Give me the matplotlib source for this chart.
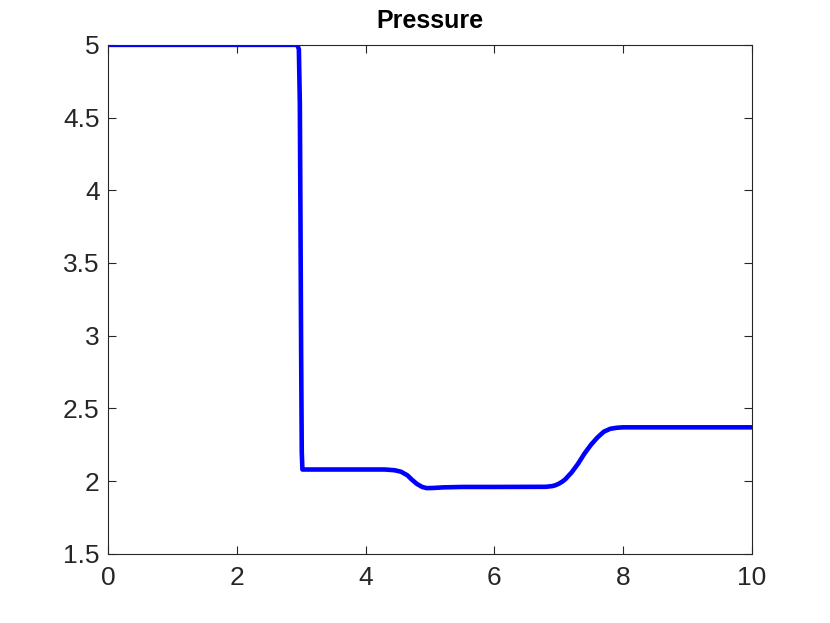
import matplotlib
matplotlib.use("Agg")
import matplotlib.pyplot as plt

x_vals = [0, 2.94, 2.965, 2.98, 2.99, 3.0, 3.01, 3.02, 4.3, 4.45, 4.55, 4.65, 4.72, 4.8, 4.88, 4.95, 5.05, 5.2, 5.5, 6.0, 6.8, 6.9, 6.95, 7.0, 7.05, 7.1, 7.2, 7.3, 7.4, 7.5, 7.6, 7.7, 7.8, 7.9, 8.0, 10]
p_vals = [5, 5, 4.97, 4.6, 3.8, 2.9, 2.2, 2.08, 2.08, 2.075, 2.065, 2.04, 2.01, 1.98, 1.96, 1.952, 1.953, 1.957, 1.96, 1.96, 1.961, 1.966, 1.972, 1.982, 1.995, 2.012, 2.06, 2.12, 2.19, 2.25, 2.3, 2.34, 2.36, 2.367, 2.37, 2.37]

xticks = [0, 2, 4, 6, 8, 10]
yticks = [1.5, 2, 2.5, 3, 3.5, 4, 4.5, 5]
ytick_labels = ["1.5", "2", "2.5", "3", "3.5", "4", "4.5", "5"]

plt.rcParams['font.family'] = ['Liberation Sans', 'DejaVu Sans']
fig = plt.figure(figsize=(8.3, 6.23), dpi=100)
ax = fig.add_axes([0.130, 0.111, 0.776, 0.817])
ax.plot(x_vals, p_vals, color='#0000ff', linewidth=3.3, solid_joinstyle='round')
ax.set_xlim(0, 10)
ax.set_ylim(1.5, 5)
ax.set_xticks(xticks)
ax.set_xticklabels([str(t) for t in xticks])
ax.set_yticks(yticks)
ax.set_yticklabels(ytick_labels)
ax.tick_params(direction='in', length=6, width=0.8, labelsize=19, colors='#262626',
               top=True, right=True)
ax.tick_params(axis='x', pad=9)
ax.tick_params(axis='y', pad=6)
for s in ax.spines.values():
    s.set_color('#262626')
    s.set_linewidth(0.8)
ax.set_title('Pressure', fontsize=18, fontweight='bold', pad=12)
fig.savefig('out.png', dpi=100)
